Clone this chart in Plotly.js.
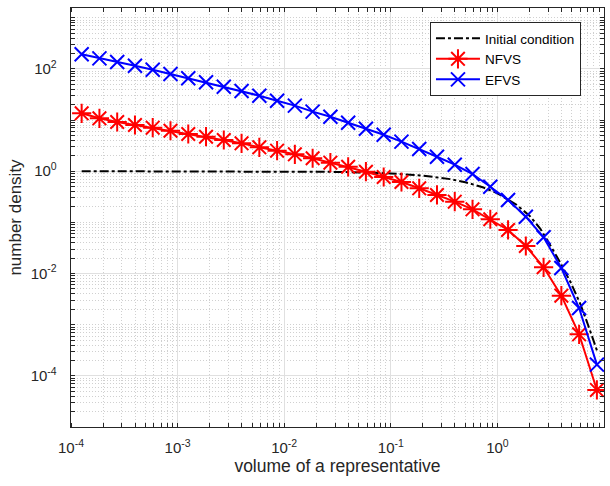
<!DOCTYPE html>
<html>
<head>
<meta charset="utf-8">
<script src="https://cdn.plot.ly/plotly-3.0.1.min.js"></script>
<style>html,body{margin:0;padding:0;background:#fff;}#chart{width:610px;height:486px;}</style>
</head>
<body>
<div id="chart"></div>
<script>
// Representative volumes (marker positions)
const volumes = [1.259e-4, 1.848e-4, 2.712e-4, 3.981e-4, 5.843e-4, 8.577e-4,
  1.259e-3, 1.848e-3, 2.712e-3, 3.981e-3, 5.843e-3, 8.577e-3,
  0.01259, 0.01848, 0.02712, 0.03981, 0.05843, 0.08577,
  0.1259, 0.1848, 0.2712, 0.3981, 0.5843, 0.8577,
  1.259, 1.848, 2.712, 3.981, 5.843, 8.577];

const nfvs = [13.55, 10.81, 9.16, 8.0, 7.08, 6.18,
  5.33, 4.72, 4.07, 3.51, 2.93, 2.52,
  2.14, 1.79, 1.47, 1.22, 0.977, 0.771,
  0.615, 0.463, 0.343, 0.254, 0.180, 0.115,
  0.0710, 0.0345, 0.01324, 0.00369, 6.49e-4, 5.30e-5];

const efvs = [192.8, 160.7, 136.1, 115.3, 96.4, 79.4,
  65.5, 54.6, 44.8, 36.9, 29.9, 23.9,
  19.1, 14.6, 11.6, 8.87, 6.78, 5.16,
  3.78, 2.72, 1.92, 1.34, 0.881, 0.498,
  0.274, 0.129, 0.0511, 0.01282, 0.00212, 1.656e-4];

const initX = [1.26e-4, 0.001, 0.01, 0.03, 0.06, 0.1, 0.2, 0.36, 0.5, 0.74,
  1, 1.5, 2, 2.53, 3.15, 3.91, 4.85, 6.02, 7.2, 8.6];
const initY = [1.0, 1.0, 0.99, 0.97, 0.94, 0.905, 0.82, 0.70, 0.61, 0.48,
  0.37, 0.223, 0.135, 0.075, 0.035, 0.016, 0.0068, 0.0025, 0.0009, 0.00031];

const seriesNames = ['Initial condition', 'NFVS', 'EFVS'];
const xTitle = 'volume of a representative';
const yTitle = 'number density';

const xTickVals = [1e-4, 1e-3, 1e-2, 1e-1, 1, 10];
const xTickText = ['10<sup>-4</sup>', '10<sup>-3</sup>', '10<sup>-2</sup>', '10<sup>-1</sup>', '10<sup>0</sup>', '10<sup>1</sup>'];
const yTickVals = [1e-4, 1e-2, 1, 100];
const yTickText = ['10<sup>-4</sup>', '10<sup>-2</sup>', '10<sup>0</sup>', '10<sup>2</sup>'];

// minor tick positions (1..9 times each decade)
function minorVals(lo, hi) {
  const v = [];
  for (let e = lo; e <= hi; e++) {
    for (let m = 1; m <= 9; m++) {
      const val = m * Math.pow(10, e);
      if (e === hi && m > 1) break;
      v.push(val);
    }
  }
  return v;
}

const font = 'Liberation Sans, Arial, Helvetica, sans-serif';
const pad = '\u00a0\u00a0';

const traces = [
  {x: initX, y: initY, name: seriesNames[0], type: 'scatter', mode: 'lines',
   line: {color: '#000000', width: 2, dash: 'dashdot'}},
  {x: volumes, y: nfvs, name: seriesNames[1], type: 'scatter', mode: 'lines+markers',
   line: {color: '#ff0000', width: 2},
   marker: {symbol: 'asterisk-open', size: 16, color: '#ff0000', line: {color: '#ff0000', width: 2}}},
  {x: volumes, y: efvs, name: seriesNames[2], type: 'scatter', mode: 'lines+markers',
   line: {color: '#0000ff', width: 2},
   marker: {symbol: 'x-thin-open', size: 14, color: '#0000ff', line: {color: '#0000ff', width: 2}}}
];

const gridMajor = '#e0e0e0';
const gridMinor = '#d0d0d0';

function axisCommon() {
  return {
    type: 'log', tickmode: 'array',
    showline: true, linecolor: '#262626', linewidth: 1, mirror: 'ticks',
    ticks: 'outside', ticklen: 7, tickcolor: 'rgba(0,0,0,0)',
    showgrid: true, gridcolor: gridMajor, gridwidth: 1,
    zeroline: false,
    tickfont: {family: font, size: 15, color: '#262626'}
  };
}

const layout = {
  width: 610, height: 486,
  margin: {l: 71, r: 6, t: 8, b: 59},
  paper_bgcolor: '#ffffff', plot_bgcolor: '#ffffff',
  font: {family: font, size: 14, color: '#262626'},
  showlegend: true,
  legend: {x: 0.6735, y: 0.9666, xanchor: 'left', yanchor: 'top',
    bgcolor: '#ffffff', bordercolor: '#262626', borderwidth: 1, itemwidth: 44,
    font: {family: font, size: 13.5, color: '#000000'}, tracegroupgap: 0},
  xaxis: Object.assign(axisCommon(), {
    range: [-4, 1], tickvals: xTickVals, ticktext: xTickText,
    title: {text: xTitle, font: {family: font, size: 17.5, color: '#262626'}, standoff: 0},
    minor: {tickmode: 'array', tickvals: minorVals(-4, 1), ticks: 'inside', ticklen: 4,
      tickcolor: '#262626', showgrid: true, gridcolor: gridMinor, griddash: '1px,2px', gridwidth: 1}
  }),
  yaxis: Object.assign(axisCommon(), {
    range: [-5, 3.19], tickvals: yTickVals, ticktext: yTickText.map(t => t + pad), ticklen: 2,
    title: {text: yTitle, font: {family: font, size: 17, color: '#262626'}, standoff: 4},
    minor: {tickmode: 'array', tickvals: minorVals(-5, 3), ticks: 'inside', ticklen: 4,
      tickcolor: '#262626', showgrid: true, gridcolor: gridMinor, griddash: '1px,2px', gridwidth: 1}
  })
};

Plotly.newPlot('chart', traces, layout, {displayModeBar: false, staticPlot: true});
</script>
</body>
</html>
